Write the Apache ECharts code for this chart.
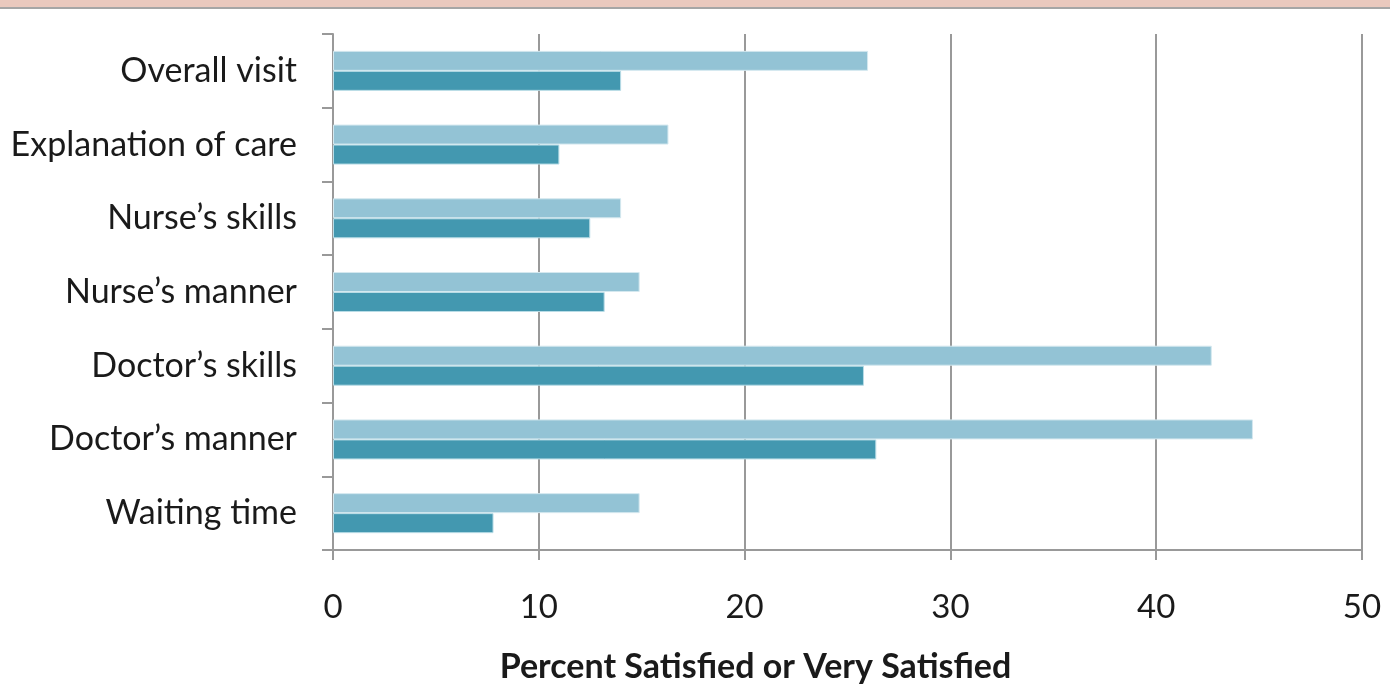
<!DOCTYPE html>
<html>
<head>
<meta charset="utf-8">
<style>
  html, body { margin: 0; padding: 0; background: #ffffff; }
  #chart { width: 1390px; height: 686px; }
</style>
<script src="https://cdn.jsdelivr.net/npm/echarts@6/dist/echarts.min.js"></script>
</head>
<body>
<div id="chart"></div>
<script>
// Satisfaction items, listed top to bottom
const categories = ['Overall visit', 'Explanation of care', 'Nurse\u2019s skills', 'Nurse\u2019s manner', 'Doctor\u2019s skills', 'Doctor\u2019s manner', 'Waiting time'];
// Upper (light) bar in each pair
const lightValues = [26.0, 16.3, 14.0, 14.9, 42.7, 44.7, 14.9];
// Lower (dark) bar in each pair
const darkValues = [14.0, 11.0, 12.5, 13.2, 25.8, 26.4, 7.8];
// Percent axis ticks
const xTicks = [0, 10, 20, 30, 40, 50];

const FONT = 'Lato, "Open Sans", sans-serif';
const chart = echarts.init(document.getElementById('chart'), null, { renderer: 'canvas' });

chart.setOption({
  backgroundColor: '#ffffff',
  animation: false,
  graphic: [
    { type: 'rect', shape: { x: 0, y: 0, width: 1390, height: 7 }, style: { fill: '#EAC9BE' }, silent: true },
    { type: 'rect', shape: { x: 0, y: 7, width: 1390, height: 2 }, style: { fill: '#A6A6A6' }, silent: true }
  ],
  grid: { left: 333, right: 28, top: 34, bottom: 136, containLabel: false, outerBoundsMode: 'none' },
  xAxis: {
    type: 'value',
    min: xTicks[0],
    max: xTicks[xTicks.length - 1],
    interval: 10,
    name: 'Percent Satisfied or Very Satisfied',
    nameLocation: 'middle',
    nameGap: 100,
    // right padding pulls the title a little left of the plot centre
    nameTextStyle: { fontFamily: FONT, fontSize: 34, fontWeight: 'bold', color: '#1a1a1a', padding: [0, 184, 0, 0] },
    axisLine: { show: true, lineStyle: { color: '#999999', width: 2 } },
    axisTick: { show: true, length: 10, lineStyle: { color: '#999999', width: 2 } },
    axisLabel: { margin: 41, fontFamily: FONT, fontSize: 33, color: '#1a1a1a' },
    splitLine: { show: true, lineStyle: { color: '#999999', width: 2 } }
  },
  yAxis: {
    type: 'category',
    inverse: true,
    data: categories,
    axisLine: { show: true, lineStyle: { color: '#999999', width: 2 } },
    axisTick: { show: true, length: 11, alignWithLabel: false, lineStyle: { color: '#999999', width: 2 } },
    axisLabel: { margin: 36, fontFamily: FONT, fontSize: 34, color: '#1a1a1a' }
  },
  series: [
    {
      type: 'bar',
      data: lightValues,
      barWidth: 20,
      barGap: '0%',
      itemStyle: { color: '#93C3D5', borderColor: '#D4E8EF', borderWidth: 1 }
    },
    {
      type: 'bar',
      data: darkValues,
      barWidth: 20,
      barGap: '0%',
      itemStyle: { color: '#4398B0', borderColor: '#B8DCE6', borderWidth: 1 }
    }
  ]
});
</script>
</body>
</html>
